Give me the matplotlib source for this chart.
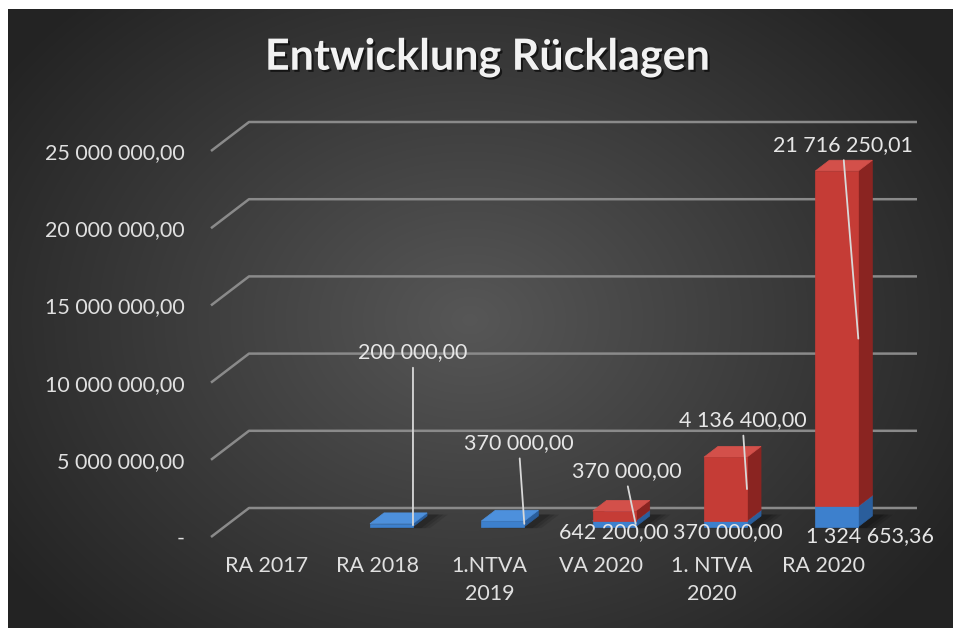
import numpy as np
import matplotlib.pyplot as plt
from matplotlib.patches import Polygon
import matplotlib.patheffects as pe

plt.rcParams['font.family'] = ['Lato', 'DejaVu Sans']

# Data
categories = ['RA 2017', 'RA 2018', '1.NTVA\n2019', 'VA 2020', '1. NTVA\n2020', 'RA 2020']
blue_vals = [0, 200000, 370000, 370000, 370000, 1324653.36]
red_vals = [0, 0, 0, 642200, 4136400, 21716250.01]
yticks = [0, 5e6, 10e6, 15e6, 20e6, 25e6]


def fmt(v):
    if v == 0:
        return '-'
    return f'{v:,.2f}'.replace(',', ' ').replace('.', ',')


W, H = 954, 628
fig = plt.figure(figsize=(W / 100, H / 100), dpi=100)
fig.patch.set_facecolor('white')

# dark radial background
bg = fig.add_axes([0, 0, 1, 1])
bg.set_xlim(0, W)
bg.set_ylim(H, 0)
bg.axis('off')
gx, gy = np.meshgrid(np.linspace(8, W, 400), np.linspace(9, H, 300))
r = np.sqrt(((gx - 470) / 620) ** 2 + ((gy - 320) / 480) ** 2)
shade = np.clip(0.34 - 0.22 * r, 0.14, 0.34)
bg.imshow(np.dstack([shade] * 3), extent=(8, W, H, 9), aspect='auto', interpolation='bilinear')

# plot area (front plane)
left, right, bottom, top = 211, 879, 537, 151
ax = fig.add_axes([left / W, 1 - bottom / H, (right - left) / W, (bottom - top) / H])
ax.set_xlim(-0.5, 5.5)
ax.set_ylim(0, 25e6)
ax.patch.set_alpha(0)
for s in ax.spines.values():
    s.set_visible(False)

# depth vector in data units
DX = 38 / ((right - left) / 6)
DY = 29 / ((bottom - top) / 25e6)
F0, F1 = 0.355, 0.725
BW = 0.386


def pt(x, v, f):
    return (x + f * DX, v + f * DY)


grid_c = '#8a8a8a'
for v in yticks:
    ax.plot([-0.5, -0.5 + DX, 5.5 + DX], [v, v + DY, v + DY], color=grid_c, lw=1.8,
            clip_on=False, zorder=1, solid_capstyle='butt')

ax.set_yticks(yticks)
ax.set_yticklabels([fmt(v) for v in yticks], fontsize=15.5, color='#e0e0e0')
ax.set_xticks(range(len(categories)))
ax.set_xticklabels(categories, fontsize=15.5, color='#e0e0e0', linespacing=1.45, va='top')
ax.tick_params(axis='y', length=0, pad=19)
ax.tick_params(axis='x', length=0, pad=14)

blue_c = ('#3d80cd', '#2a5e9c', '#4d90dc')
red_c = ('#c53c36', '#8a2421', '#d3504a')

# shadows on the floor
for i in range(len(categories)):
    if blue_vals[i] + red_vals[i] <= 0:
        continue
    x0, x1 = i - BW / 2, i + BW / 2
    for k, a in enumerate([0.10, 0.12, 0.16]):
        g = 0.12 - 0.04 * k
        poly = [pt(x0 + g, 0, F0 - 0.05), pt(x1 + g + 0.05, 0, F0 - 0.05),
                pt(x1 + g + 0.05, 0, F1 + 0.05), pt(x0 + g, 0, F1 + 0.05)]
        ax.add_patch(Polygon(poly, closed=True, facecolor='black', edgecolor='none',
                             alpha=a, clip_on=False, zorder=2))

# bars
for i in range(len(categories)):
    segs = [(0, blue_vals[i], blue_c), (blue_vals[i], blue_vals[i] + red_vals[i], red_c)]
    x0, x1 = i - BW / 2, i + BW / 2
    for b, t, (cf, cs, ct) in segs:
        if t - b <= 0:
            continue
        side = [pt(x1, b, F0), pt(x1, b, F1), pt(x1, t, F1), pt(x1, t, F0)]
        topf = [pt(x0, t, F0), pt(x1, t, F0), pt(x1, t, F1), pt(x0, t, F1)]
        front = [pt(x0, b, F0), pt(x1, b, F0), pt(x1, t, F0), pt(x0, t, F0)]
        for poly, c in ((side, cs), (topf, ct), (front, cf)):
            ax.add_patch(Polygon(poly, closed=True, facecolor=c, edgecolor=c, lw=0.5,
                                 clip_on=False, zorder=3))

# data labels: (index, series, offset px, leader line)
label_pos = [
    (1, 'blue', (0, 173), True),
    (2, 'blue', (-5, 81), True),
    (3, 'blue', (-9, 53), True),
    (3, 'red', (-22, -16), False),
    (4, 'blue', (-19, -8), False),
    (4, 'red', (-4, 69), True),
    (5, 'blue', (12, -20), False),
    (5, 'red', (-15, 194), True),
]
for i, ser, off, leader in label_pos:
    if ser == 'blue':
        b, v = 0, blue_vals[i]
    else:
        b, v = blue_vals[i], red_vals[i]
    anchor = pt(i + BW / 2, b + v / 2, F0)
    ap = None
    if leader:
        ap = dict(arrowstyle='-', color='#d8d8d8', lw=1.3, shrinkA=2, shrinkB=0,
                  relpos=(0.5, 0))
    ax.annotate(fmt(v), xy=anchor, xytext=off, textcoords='offset pixels',
                ha='center', va='center', fontsize=15.5, color='#e6e6e6',
                arrowprops=ap, zorder=5, annotation_clip=False)

fig.text(487 / W, 1 - 57 / H, 'Entwicklung Rücklagen', ha='center', va='center',
         fontsize=31, fontweight='bold', color='#f2f2f2',
         path_effects=[pe.withSimplePatchShadow(offset=(1.5, -1.5), shadow_rgbFace='black', alpha=0.6)])

fig.savefig('out.png', dpi=100)
